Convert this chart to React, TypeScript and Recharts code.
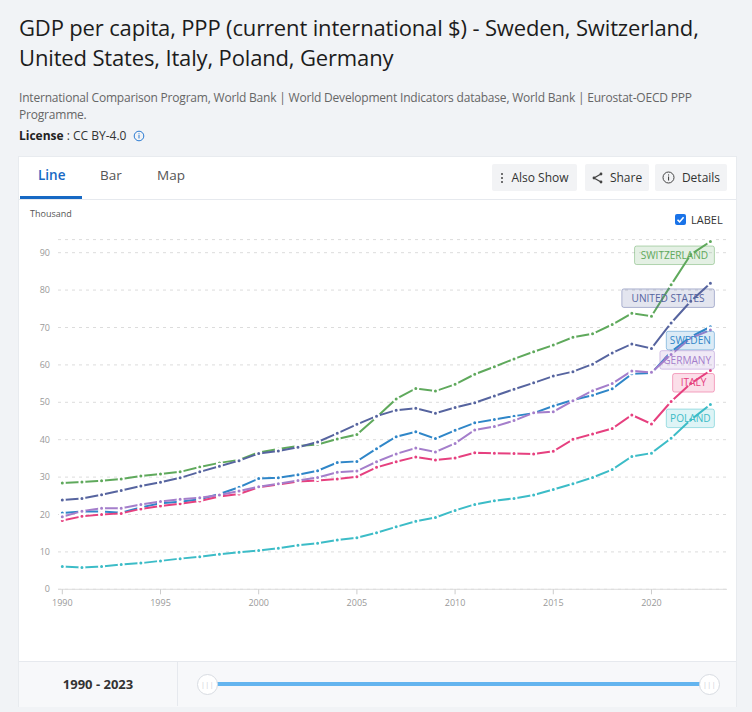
import React from "react"
import { LineChart, Line, XAxis, YAxis, CartesianGrid, LabelList } from "recharts"

const YEARS = [
  1990, 1991, 1992, 1993, 1994, 1995, 1996, 1997, 1998, 1999,
  2000, 2001, 2002, 2003, 2004, 2005, 2006, 2007, 2008, 2009,
  2010, 2011, 2012, 2013, 2014, 2015, 2016, 2017, 2018, 2019,
  2020, 2021, 2022, 2023,
]

// values in thousand international $
const SWEDEN = [
  20.4, 20.8, 20.8, 20.5, 21.9, 23.0, 23.4, 24.1, 25.5, 27.3,
  29.6, 29.8, 30.6, 31.7, 33.9, 34.2, 37.6, 40.8, 42.1, 40.3,
  42.5, 44.5, 45.4, 46.3, 47.1, 49.0, 50.6, 51.9, 53.6, 57.6,
  57.8, 63.5, 67.5, 70.2,
]
const SWITZERLAND = [
  28.4, 28.7, 29.0, 29.5, 30.3, 30.8, 31.4, 32.7, 33.8, 34.6,
  36.6, 37.5, 38.3, 38.7, 40.2, 41.4, 46.0, 50.9, 53.7, 53.0,
  54.8, 57.5, 59.5, 61.6, 63.5, 65.3, 67.4, 68.3, 70.8, 73.8,
  73.0, 81.4, 89.5, 93.0,
]
const UNITED_STATES = [
  23.9, 24.3, 25.3, 26.4, 27.6, 28.6, 29.8, 31.4, 32.9, 34.4,
  36.3, 37.0, 38.0, 39.4, 41.7, 44.1, 46.3, 47.9, 48.4, 47.1,
  48.6, 49.9, 51.7, 53.5, 55.2, 57.0, 58.2, 60.2, 63.2, 65.6,
  64.4, 71.2, 77.0, 81.8,
]
const ITALY = [
  18.4, 19.5, 20.0, 20.3, 21.5, 22.3, 22.9, 23.6, 24.8, 25.5,
  27.3, 28.0, 28.8, 29.1, 29.5, 30.1, 32.6, 34.1, 35.4, 34.6,
  35.1, 36.5, 36.4, 36.3, 36.2, 36.9, 40.1, 41.5, 43.0, 46.6,
  44.2, 50.2, 55.0, 58.5,
]
const POLAND = [
  6.1, 5.8, 6.1, 6.6, 7.0, 7.6, 8.2, 8.7, 9.4, 9.9,
  10.4, 11.0, 11.8, 12.3, 13.2, 13.8, 15.1, 16.7, 18.2, 19.2,
  21.1, 22.7, 23.7, 24.3, 25.2, 26.7, 28.2, 29.9, 32.0, 35.5,
  36.4, 40.4, 45.3, 49.4,
]
const GERMANY = [
  19.4, 20.9, 21.7, 21.7, 22.7, 23.5, 24.1, 24.5, 25.2, 26.3,
  27.4, 28.2, 29.1, 29.9, 31.3, 31.6, 34.1, 36.2, 37.8, 36.7,
  39.0, 42.6, 43.5, 45.1, 47.2, 47.5, 50.4, 53.1, 55.0, 58.4,
  58.0, 62.8, 67.2, 69.3,
]

const Y_TICKS = [0, 10, 20, 30, 40, 50, 60, 70, 80, 90]
const X_TICKS = [1990, 1995, 2000, 2005, 2010, 2015, 2020]

const SERIES = [
  { key: "sweden", name: "SWEDEN", color: "#2f86c8", values: SWEDEN, shift: 0 },
  { key: "switzerland", name: "SWITZERLAND", color: "#5fa95c", values: SWITZERLAND, shift: 0 },
  { key: "us", name: "UNITED STATES", color: "#56649f", values: UNITED_STATES, shift: 1 },
  { key: "italy", name: "ITALY", color: "#e6407f", values: ITALY, shift: -1.5 },
  { key: "poland", name: "POLAND", color: "#3cbcc7", values: POLAND, shift: 0 },
  { key: "germany", name: "GERMANY", color: "#a47ecb", values: GERMANY, shift: 16 },
]

const data = YEARS.map((year, i) => {
  const row: any = { year }
  SERIES.forEach((s) => (row[s.key] = s.values[i]))
  return row
})

const FONT = "'Open Sans', 'Noto Sans', sans-serif"

const endLabel = (s: any) => (props: any) => {
  const { x, y, index } = props
  if (index !== YEARS.length - 1) return null
  const w = s.name.length * 6.35 + 10
  const h = 18.5
  const right = x + 4
  const cy = y + 13.8 + s.shift
  return (
    <g>
      <rect x={right - w} y={cy - h / 2} width={w} height={h} rx={2}
        fill={s.color} fillOpacity={0.17} stroke={s.color} strokeOpacity={0.45} />
      <text x={right - w / 2} y={cy} dy="0.36em" textAnchor="middle" fill={s.color}
        fontSize={10.1} fontFamily={FONT}>
        {s.name}
      </text>
    </g>
  )
}

const Button = ({ left, width, icon, text }: any) => (
  <div style={{
    position: "absolute", left, top: 164, width, height: 27, background: "#f2f3f5",
    borderRadius: 2, display: "flex", alignItems: "center", justifyContent: "center",
    fontSize: 12, color: "#333", gap: 7,
  }}>
    {icon}
    <span>{text}</span>
  </div>
)

export default function App() {
  return (
    <div style={{
      position: "absolute", left: 0, top: 0, width: 752, height: 712,
      background: "#f1f3f6", fontFamily: FONT, overflow: "hidden",
    }}>
      {/* header */}
      <div style={{ position: "absolute", left: 19, top: 12, fontSize: 22, lineHeight: "30px", color: "#1c1c1c", whiteSpace: "nowrap", letterSpacing: -0.15 }}>
        GDP per capita, PPP (current international $) - Sweden, Switzerland,<br />
        United States, Italy, Poland, Germany
      </div>
      <div style={{ position: "absolute", left: 19, top: 89, fontSize: 12, lineHeight: "17px", color: "#666", whiteSpace: "nowrap", letterSpacing: -0.2 }}>
        International Comparison Program, World Bank | World Development Indicators database, World Bank | Eurostat-OECD PPP<br />
        Programme.
      </div>
      <div style={{ position: "absolute", left: 19, top: 127, fontSize: 12, color: "#333", whiteSpace: "nowrap", display: "flex", alignItems: "center" }}>
        <b style={{ color: "#222" }}>License</b>
        <span>&nbsp;: CC BY-4.0</span>
        <svg width="12" height="12" style={{ marginLeft: 7 }}>
          <circle cx="6" cy="6" r="4.8" fill="none" stroke="#2a7ad2" strokeWidth="1" />
          <rect x="5.5" y="5" width="1" height="3.4" fill="#2a7ad2" />
          <rect x="5.5" y="3.3" width="1" height="1" fill="#2a7ad2" />
        </svg>
      </div>

      {/* card */}
      <div style={{ position: "absolute", left: 19, top: 157, width: 717, height: 549, background: "#fff", boxShadow: "0 0 0 1px #e8ebef" }} />
      <div style={{ position: "absolute", left: 19, top: 199, width: 717, height: 1, background: "#e6e9ee" }} />
      <div style={{ position: "absolute", left: 38, top: 166, fontSize: 13.5, color: "#1769c4", fontWeight: 600 }}>Line</div>
      <div style={{ position: "absolute", left: 20, top: 196, width: 62, height: 3, background: "#1769c4" }} />
      <div style={{ position: "absolute", left: 100, top: 166, fontSize: 13.5, color: "#555" }}>Bar</div>
      <div style={{ position: "absolute", left: 157, top: 166, fontSize: 13.5, color: "#555" }}>Map</div>

      <Button left={492} width={85} text="Also Show" icon={
        <svg width="4" height="12"><circle cx="2" cy="2" r="1" fill="#444" /><circle cx="2" cy="6" r="1" fill="#444" /><circle cx="2" cy="10" r="1" fill="#444" /></svg>
      } />
      <Button left={585} width={64} text="Share" icon={
        <svg width="11" height="12"><path d="M9 2 L2 6 L9 10" fill="none" stroke="#444" strokeWidth="1.3" /><circle cx="9" cy="2" r="1.4" fill="#444" /><circle cx="2" cy="6" r="1.4" fill="#444" /><circle cx="9" cy="10" r="1.4" fill="#444" /></svg>
      } />
      <Button left={655} width={72} text="Details" icon={
        <svg width="13" height="13"><circle cx="6.5" cy="6.5" r="5.5" fill="none" stroke="#444" strokeWidth="1" /><rect x="6" y="5.5" width="1.1" height="4" fill="#444" /><rect x="6" y="3.4" width="1.1" height="1.1" fill="#444" /></svg>
      } />

      <div style={{ position: "absolute", left: 30, top: 207, fontSize: 9, color: "#555" }}>Thousand</div>
      <div style={{ position: "absolute", left: 675, top: 212, display: "flex", alignItems: "center", gap: 5, fontSize: 11, color: "#333" }}>
        <svg width="11" height="11">
          <rect x="0" y="0" width="11" height="11" rx="2" fill="#1a73e8" />
          <path d="M2.5 5.8 L4.6 7.9 L8.6 3.2" fill="none" stroke="#fff" strokeWidth="1.6" />
        </svg>
        <span>LABEL</span>
      </div>

      {/* chart */}
      <div style={{ position: "absolute", left: 19, top: 199 }}>
        <LineChart width={717} height={462} data={data}
          margin={{ top: 40.6, right: 9, bottom: 41.7, left: 9 }}>
          <CartesianGrid vertical={false} stroke="#dcdcdc" strokeDasharray="3 4" />
          <XAxis dataKey="year" type="number" domain={[1990, 2023]} ticks={X_TICKS}
            padding={{ left: 4.3, right: 16.6 }} height={30}
            axisLine={{ stroke: "#dddddd" }} tickLine={{ stroke: "#cccccc" }}
            tickSize={5} tickMargin={5}
            tick={{ fontSize: 9, fill: "#999", fontFamily: FONT }} />
          <YAxis domain={[0, 93.5]} ticks={Y_TICKS} width={30} axisLine={false}
            tickLine={false} tickSize={0} tickMargin={8}
            tick={{ fontSize: 9, fill: "#999", fontFamily: FONT }} />
          {SERIES.map((s) => (
            <Line key={s.key} dataKey={s.key} stroke={s.color} strokeWidth={2}
              type="linear" isAnimationActive={false}
              dot={{ r: 2.5, fill: s.color, stroke: "#fff", strokeWidth: 2 }}
              activeDot={false} />
          ))}
          {SERIES.map((s) => (
            <Line key={s.key + "-label"} dataKey={s.key} stroke="none" dot={false}
              activeDot={false} legendType="none" isAnimationActive={false}>
              <LabelList dataKey={s.key} content={endLabel(s)} />
            </Line>
          ))}
        </LineChart>
      </div>

      {/* range footer */}
      <div style={{ position: "absolute", left: 19, top: 661, width: 717, height: 45, background: "#f7f8fa", borderTop: "1px solid #e6e9ee" }} />
      <div style={{ position: "absolute", left: 177, top: 662, width: 1, height: 44, background: "#e6e9ee" }} />
      <div style={{ position: "absolute", left: 19, top: 675, width: 158, textAlign: "center", fontSize: 13, fontWeight: 700, color: "#333" }}>1990 - 2023</div>
      <div style={{ position: "absolute", left: 207, top: 682, width: 502, height: 4, background: "#64b5ef" }} />
      {[207, 709].map((cx) => (
        <div key={cx} style={{
          position: "absolute", left: cx - 10, top: 674, width: 19, height: 19, borderRadius: "50%",
          background: "#fff", border: "1px solid #d8dce2", display: "flex", alignItems: "center",
          justifyContent: "center", fontSize: 7, color: "#c8ccd2", letterSpacing: 0.5,
        }}>|||</div>
      ))}
    </div>
  )
}
